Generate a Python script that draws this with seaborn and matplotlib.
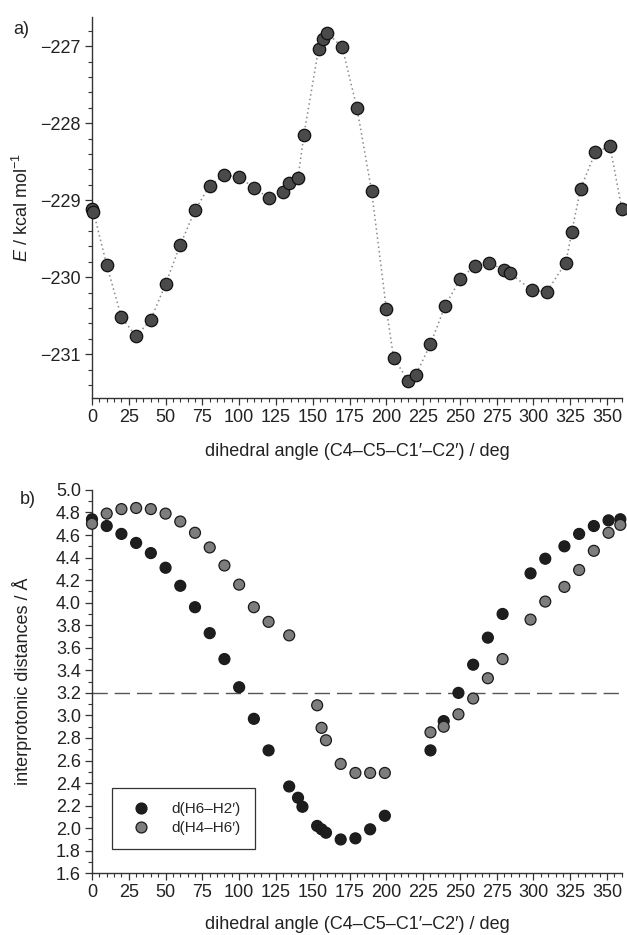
import numpy as np
import pandas as pd
import matplotlib
matplotlib.use("Agg")
import matplotlib.pyplot as plt
from matplotlib.ticker import MultipleLocator
import seaborn as sns

# ---------------- data ----------------
angle_a = [0, 1, 10, 20, 30, 40, 50, 60, 70, 80, 90, 100, 110, 120, 130, 134, 140, 144,
           154, 157, 160, 170, 180, 190, 200, 205, 215, 220, 230, 240, 250, 260, 270,
           280, 284, 299, 309, 322, 326, 332, 342, 352, 360]
energy = [-229.11, -229.15, -229.84, -230.52, -230.77, -230.55, -230.09, -229.58, -229.13,
          -228.81, -228.67, -228.70, -228.84, -228.97, -228.89, -228.77, -228.71, -228.15,
          -227.03, -226.90, -226.83, -227.01, -227.80, -228.88, -230.41, -231.05, -231.35,
          -231.27, -230.87, -230.37, -230.03, -229.85, -229.81, -229.91, -229.95, -230.17,
          -230.19, -229.81, -229.41, -228.85, -228.38, -228.30, -229.11]

angle_b = [0, 10, 20, 30, 40, 50, 60, 70, 80, 90, 100, 110, 120, 134, 140, 143, 153, 156,
           159, 169, 179, 189, 199, 230, 239, 249, 259, 269, 279, 298, 308, 321, 331, 341,
           351, 359]
d_h6_h2 = [4.74, 4.68, 4.61, 4.53, 4.44, 4.31, 4.15, 3.96, 3.73, 3.50, 3.25, 2.97, 2.69,
           2.37, 2.27, 2.19, 2.02, 1.99, 1.96, 1.90, 1.91, 1.99, 2.11, 2.69, 2.95, 3.20,
           3.45, 3.69, 3.90, 4.26, 4.39, 4.50, 4.61, 4.68, 4.73, 4.74]
d_h4_h6 = [4.70, 4.79, 4.83, 4.84, 4.83, 4.79, 4.72, 4.62, 4.49, 4.33, 4.16, 3.96, 3.83,
           3.71, np.nan, np.nan, 3.09, 2.89, 2.78, 2.57, 2.49, 2.49, 2.49, 2.85, 2.90, 3.01,
           3.15, 3.33, 3.50, 3.85, 4.01, 4.14, 4.29, 4.46, 4.62, 4.69]
series_names = ["d(H6\u2013H2\u2032)", "d(H4\u2013H6\u2032)"]
threshold = 3.2

xlabel = "dihedral angle (C4\u2013C5\u2013C1\u2032\u2013C2\u2032) / deg"

# ---------------- style ----------------
sns.set_theme(style="ticks")
plt.rcParams["font.family"] = ["Liberation Sans", "DejaVu Sans"]
plt.rcParams["mathtext.fontset"] = "custom"
plt.rcParams["mathtext.rm"] = "Liberation Sans"
plt.rcParams["mathtext.it"] = "Liberation Sans:italic"
plt.rcParams["axes.unicode_minus"] = True

FS = 13
fig = plt.figure(figsize=(6.27, 9.35), dpi=100)
axA = fig.add_axes([0.1467, 0.5743, 0.845, 0.4075])
axB = fig.add_axes([0.1467, 0.066, 0.845, 0.41])

def style_axis(ax):
    for s in ["top", "right"]:
        ax.spines[s].set_visible(False)
    for s in ["left", "bottom"]:
        ax.spines[s].set_color("#333333")
        ax.spines[s].set_linewidth(1.0)
    ax.tick_params(which="major", direction="out", length=5, width=0.9,
                   color="#333333", labelsize=FS, pad=3, labelcolor="#222222")
    ax.tick_params(which="minor", direction="out", length=2.8, width=0.8,
                   color="#333333")
    ax.set_xlim(0, 360)
    ax.xaxis.set_major_locator(MultipleLocator(25))
    ax.xaxis.set_minor_locator(MultipleLocator(5))
    ax.set_xlabel(xlabel, fontsize=FS, color="#222222")
    ax.xaxis.set_label_coords(0.5, -0.112)

# ---------------- panel a ----------------
dfA = pd.DataFrame({"angle": angle_a, "E": energy})
sns.lineplot(data=dfA, x="angle", y="E", ax=axA, sort=False, color="#8a8a8a",
             linestyle=(0, (1, 2)), linewidth=1.1, zorder=2)
sns.scatterplot(data=dfA, x="angle", y="E", ax=axA, s=80, color="#4a4a4a",
                edgecolor="#111111", linewidth=0.9, zorder=3, clip_on=False)
style_axis(axA)
axA.set_ylim(-231.57, -226.62)
axA.yaxis.set_major_locator(MultipleLocator(1))
axA.yaxis.set_minor_locator(MultipleLocator(0.2))
axA.set_ylabel("$E$ / kcal mol$^{-1}$", fontsize=FS, color="#222222")
axA.yaxis.set_label_coords(-0.113, 0.5)
axA.xaxis.set_label_coords(0.5, -0.118)
fig.text(0.021, 0.968, "a)", fontsize=FS, color="#222222", va="center")

# ---------------- panel b ----------------
dfB = pd.DataFrame({
    "angle": angle_b * 2,
    "dist": d_h6_h2 + d_h4_h6,
    "pair": [series_names[0]] * len(angle_b) + [series_names[1]] * len(angle_b),
}).dropna()
axB.axhline(threshold, color="#555555", linewidth=1.0, dashes=(11, 5), zorder=1)
sns.scatterplot(data=dfB, x="angle", y="dist", hue="pair", hue_order=series_names,
                palette={series_names[0]: "#1e1e1e", series_names[1]: "#7d7d7d"},
                s=62, edgecolor="#1a1a1a", linewidth=0.9, ax=axB, zorder=3,
                clip_on=False)
style_axis(axB)
axB.set_ylim(1.6, 5.0)
axB.yaxis.set_major_locator(MultipleLocator(0.2))
axB.yaxis.set_minor_locator(MultipleLocator(0.1))
axB.yaxis.set_major_formatter(matplotlib.ticker.FormatStrFormatter("%.1f"))
axB.set_ylabel("interprotonic distances / \u00c5", fontsize=FS, color="#222222")
axB.yaxis.set_label_coords(-0.113, 0.5)
leg = axB.legend(loc="lower left", bbox_to_anchor=(0.038, 0.063), frameon=True,
                 fancybox=False, fontsize=11, handletextpad=1.0, borderpad=0.9,
                 labelspacing=0.35, title=None, borderaxespad=0)
leg.get_frame().set_edgecolor("#333333")
leg.get_frame().set_linewidth(0.9)
leg.get_frame().set_alpha(1)
fig.text(0.032, 0.466, "b)", fontsize=FS, color="#222222", va="center")

fig.savefig("out.png", dpi=100)
